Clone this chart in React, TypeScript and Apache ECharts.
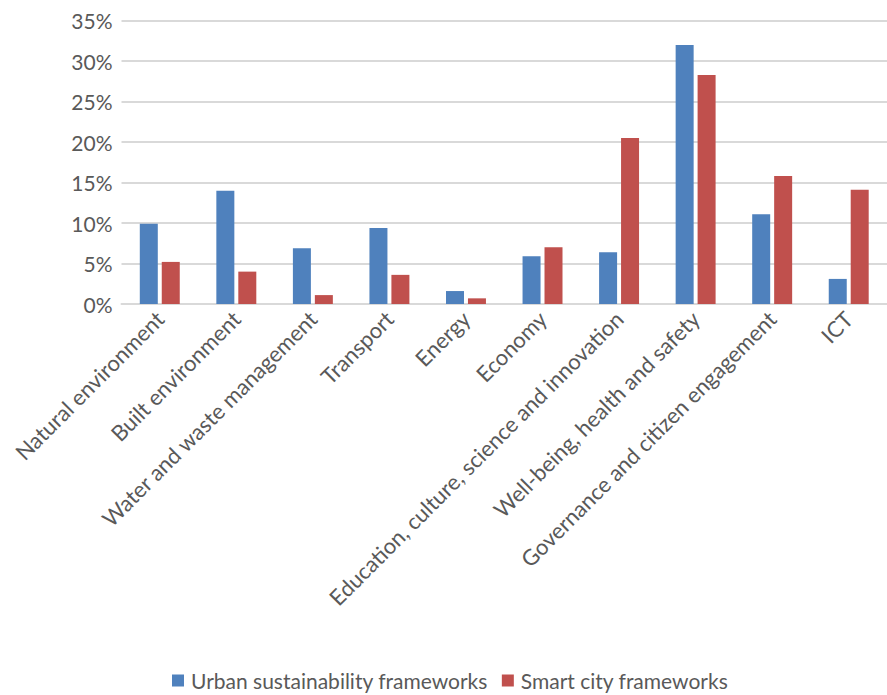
import React, { useEffect, useRef } from "react";
import * as echarts from "echarts";

const categories = [
  "Natural environment",
  "Built environment",
  "Water and waste management",
  "Transport",
  "Energy",
  "Economy",
  "Education, culture, science and innovation",
  "Well-being, health and safety",
  "Governance and citizen engagement",
  "ICT",
];
const urbanSustainability = [9.9, 14.0, 6.9, 9.4, 1.6, 5.9, 6.4, 32.0, 11.1, 3.1];
const smartCity = [5.2, 4.0, 1.1, 3.6, 0.7, 7.0, 20.5, 28.3, 15.8, 14.1];
const seriesNames = ["Urban sustainability frameworks", "Smart city frameworks"];

const FONT = "Lato, 'Open Sans', sans-serif";
const TEXT = "#595959";

export default function App() {
  const ref = useRef<HTMLDivElement>(null);
  useEffect(() => {
    if (!ref.current) return;
    const chart = echarts.init(ref.current, undefined, { renderer: "svg" });
    chart.setOption({
      animation: false,
      backgroundColor: "#ffffff",
      textStyle: { fontFamily: FONT },
      grid: { left: 121.5, top: 20.7, width: 770, height: 283.3, containLabel: false },
      legend: {
        left: 167,
        top: 665,
        itemWidth: 12,
        itemHeight: 12,
        itemGap: 14,
        icon: "rect",
        textStyle: { fontFamily: FONT, fontSize: 21, color: TEXT, padding: [0, 0, 0, 2] },
        data: seriesNames,
      },
      xAxis: {
        type: "category",
        data: categories,
        axisLine: { show: true, lineStyle: { color: "#d9d9d9", width: 2 } },
        axisTick: { show: false },
        axisLabel: {
          interval: 0,
          rotate: 45,
          margin: 11,
          fontFamily: FONT,
          fontSize: 22,
          color: TEXT,
        },
      },
      yAxis: {
        type: "value",
        min: 0,
        max: 35,
        interval: 5,
        axisLine: { show: false },
        axisTick: { show: false },
        splitLine: { lineStyle: { color: "#d9d9d9", width: 2 } },
        axisLabel: {
          margin: 9,
          fontFamily: FONT,
          fontSize: 21,
          color: TEXT,
          formatter: (v: number) => `${v}%`,
        },
      },
      series: [
        {
          name: seriesNames[0],
          type: "bar",
          data: urbanSustainability,
          barWidth: 18,
          barGap: "22%",
          itemStyle: { color: "#4f81bd" },
        },
        {
          name: seriesNames[1],
          type: "bar",
          data: smartCity,
          barWidth: 18,
          barGap: "22%",
          itemStyle: { color: "#c0504d" },
        },
      ],
    });
    return () => chart.dispose();
  }, []);
  return (
    <div
      ref={ref}
      style={{ position: "fixed", left: 0, top: 0, width: 887, height: 695 }}
    />
  );
}
